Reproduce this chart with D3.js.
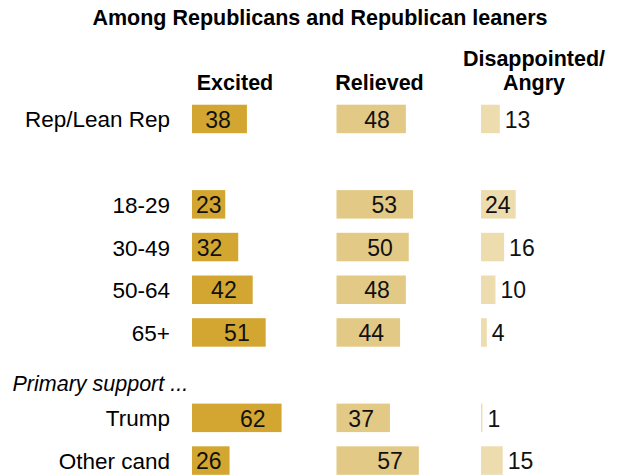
<!DOCTYPE html>
<html>
<head>
<meta charset="utf-8">
<script src="https://cdn.jsdelivr.net/npm/d3@7"></script>
<style>
  body { margin: 0; background: #fff; }
  svg { font-family: "Liberation Sans", Arial, sans-serif; }
</style>
</head>
<body>
<svg width="620" height="475"></svg>
<script>
// values
const rowLabels = ['Rep/Lean Rep', '18-29', '30-49', '50-64', '65+', 'Trump', 'Other cand'];
const columns = ['Excited', 'Relieved', 'Disappointed/Angry'];
const excited = [38, 23, 32, 42, 51, 62, 26];
const relieved = [48, 53, 50, 48, 44, 37, 57];
const angry = [13, 24, 16, 10, 4, 1, 15];
const colors = ['#d2a630', '#e2c985', '#eddcad'];
const title = 'Among Republicans and Republican leaners';
const groupLabel = 'Primary support ...';

const svg = d3.select('svg');
const fontSize = 21.5;
const labelSize = 22.5;

// row slots, with an empty one and a slot for the group label
const slots = ['Rep/Lean Rep', '_gap', '18-29', '30-49', '50-64', '65+', '_group', 'Trump', 'Other cand'];
const y = d3.scaleBand()
  .domain(slots)
  .range([97.6, 97.6 + 9 * 42.7])
  .paddingInner(0.333)
  .paddingOuter(0.1665);

const col = d3.scaleBand()
  .domain(columns)
  .range([192, 192 + 3 * 144.5]);

const x = d3.scaleLinear()
  .domain([0, 100])
  .range([0, 144.5]);

const series = [excited, relieved, angry];

svg.append('text')
  .attr('x', 320)
  .attr('y', 25)
  .attr('text-anchor', 'middle')
  .style('font-weight', 'bold')
  .style('font-size', fontSize + 'px')
  .text(title);

// column headers
columns.forEach(function (c, i) {
  const parts = c.indexOf('/') > 0 ? [c.split('/')[0] + '/', c.split('/')[1]] : [c];
  const cx = col(c) + (parts.length > 1 ? 53 : 43);
  const t = svg.append('text')
    .attr('text-anchor', 'middle')
    .style('font-weight', 'bold')
    .style('font-size', fontSize + 'px');
  parts.forEach(function (p, j) {
    t.append('tspan')
      .attr('x', cx)
      .attr('y', 90 - (parts.length - 1 - j) * 24)
      .text(p);
  });
});

// row labels
svg.selectAll('.rowlabel')
  .data(rowLabels)
  .enter().append('text')
  .attr('class', 'rowlabel')
  .attr('x', 170)
  .attr('y', function (d) { return y(d) + y.bandwidth() / 2 + 8.5; })
  .attr('text-anchor', 'end')
  .style('font-size', labelSize + 'px')
  .text(function (d) { return d; });

svg.append('text')
  .attr('x', 12.5)
  .attr('y', y('_group') + y.bandwidth() / 2 + 16)
  .style('font-size', fontSize + 'px')
  .style('font-style', 'italic')
  .text(groupLabel);

// bars and value labels
series.forEach(function (vals, i) {
  const x0 = col(columns[i]);
  const g = svg.append('g').attr('class', 'series');

  const data = vals.map(function (v, k) { return { row: rowLabels[k], value: v }; });

  g.selectAll('rect')
    .data(data)
    .enter().append('rect')
    .attr('x', x0)
    .attr('y', function (d) { return y(d.row); })
    .attr('width', function (d) { return x(d.value); })
    .attr('height', y.bandwidth())
    .style('fill', colors[i]);

  g.selectAll('text')
    .data(data)
    .enter().append('text')
    .attr('y', function (d) { return y(d.row) + y.bandwidth() / 2 + 8.7; })
    .style('font-size', '23px')
    .style('fill', '#111')
    .text(function (d) { return d.value; })
    .each(function (d) {
      const el = d3.select(this);
      const end = x0 + x(d.value);
      if (d.value >= 20) {
        const w = this.getComputedTextLength();
        el.attr('text-anchor', 'end')
          .attr('x', Math.max(end - 16, x0 + 4 + w));
      } else {
        el.attr('text-anchor', 'start')
          .attr('x', end + 5);
      }
    });
});
</script>
</body>
</html>
